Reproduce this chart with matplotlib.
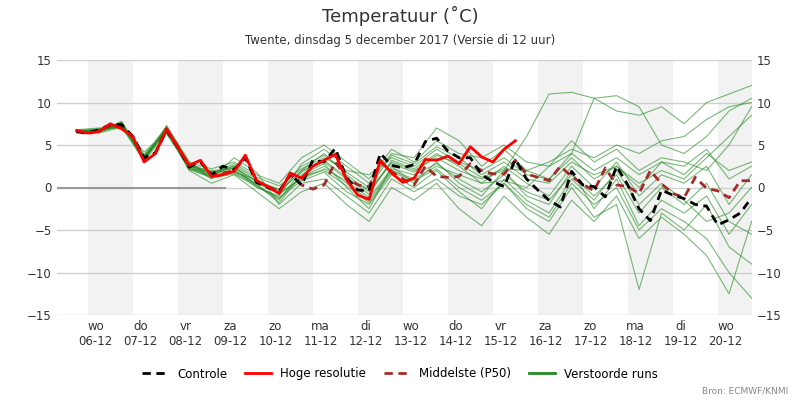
import numpy as np
import matplotlib.pyplot as plt
from matplotlib.lines import Line2D

# time in days since 5 dec 00h
hours6 = list(range(0, 361, 6))
hours12 = list(range(0, 361, 12))
start = 0.75

controle = [6.6, 6.4, 6.8, 7.4, 7.4, 6.0, 3.5, 4.1, 6.8, 4.8, 2.4, 3.0, 1.5, 2.5, 2.1, 3.5,
            0.6, 0.0, -0.5, 1.6, 0.3, 3.2, 3.0, 4.6, 1.1, -0.3, -0.4, 4.0, 2.6, 2.3,
            2.7, 5.4, 5.8, 4.3, 3.5, 3.5, 1.5, 0.7, 0.1, 3.3, 1.0, -0.3, -1.5, -2.3, 1.9,
            0.3, 0.1, -1.1, 2.5, 0.3, -2.5, -3.9, -0.3, -0.9, -1.3, -2.0, -2.2, -4.4,
            -3.8, -3.0, -1.2]
hoge_res = [6.7, 6.4, 6.6, 7.5, 6.9, 6.0, 3.0, 4.0, 6.9, 4.8, 2.6, 3.2, 1.3, 1.5, 1.9, 3.8,
            0.8, 0.1, -0.7, 1.7, 1.1, 2.5, 3.2, 3.9, 0.9, -0.9, -1.4, 3.2, 1.7, 0.6,
            1.1, 3.3, 3.2, 3.7, 2.8, 4.8, 3.6, 3.0, 4.5, 5.5]
mediaan = [6.6, 6.3, 6.7, 7.3, 7.2, 6.0, 3.3, 4.0, 6.7, 4.7, 2.6, 3.1, 1.5, 1.7, 2.0, 3.6,
           0.7, 0.1, -0.5, 1.5, 0.3, -0.2, 0.3, 3.0, 1.1, 0.3, 0.1, 3.0, 1.9, 1.0,
           0.3, 2.5, 1.3, 1.2, 1.3, 2.8, 2.0, 1.6, 1.6, 3.2, 1.6, 1.2, 0.8, 2.5, 1.3,
           0.4, -0.4, 2.3, 0.3, 0.1, -0.7, 2.0, 0.4, -0.7, -1.2, 1.2, -0.1, -0.4,
           -1.2, 0.8, 0.8]

# verstoorde runs (12-uurlijks)
runs = [
    [6.5, 6.9, 7.6, 3.2, 7.0, 2.8, 1.8, 2.5, 0.2, -1.5, 2.0, 4.0, 1.5, -0.5, 3.0, 2.0, 3.5, 2.0, 1.0, 2.0, 6.0, 11.0, 11.2, 10.5, 9.0, 8.5, 9.5, 7.5, 10.0, 11.0, 12.0],
    [6.7, 6.6, 7.2, 3.8, 6.5, 2.1, 1.2, 1.8, 0.9, -0.8, 1.2, 2.5, 0.5, -1.5, 2.0, 1.0, 2.5, 1.5, 0.5, 0.8, 0.0, 2.5, 4.0, 10.5, 10.8, 9.5, 5.0, 4.0, 6.0, 9.0, 10.5],
    [6.4, 6.5, 7.8, 3.0, 7.3, 3.1, 1.0, 3.5, 1.8, -2.0, 0.5, 1.0, -1.0, -3.0, 1.0, -0.5, 1.0, -1.0, -2.0, 0.5, -2.5, -4.0, 0.0, -3.5, -2.0, -12.0, -3.0, -5.0, -2.0, -7.0, -9.0],
    [6.8, 7.0, 7.0, 4.2, 6.3, 2.5, 2.0, 2.2, 0.0, -1.0, 2.8, 4.5, 2.5, 0.5, 4.0, 3.5, 7.0, 5.5, 2.5, 4.5, 2.0, 1.0, 3.5, 1.0, 2.5, 0.0, 3.0, 1.5, 4.0, 2.0, 3.0],
    [6.6, 6.7, 7.5, 3.5, 6.9, 2.0, 0.5, 1.5, -0.5, -2.5, -0.5, 0.5, -2.0, -4.0, 0.0, -1.5, 0.5, -2.5, -4.5, -1.0, -3.5, -5.5, -1.5, -4.0, -1.0, -6.0, -3.5, -5.5, -8.0, -12.5, -4.0],
    [6.5, 6.8, 7.3, 3.3, 6.6, 2.6, 1.6, 2.8, 1.2, 0.2, 2.2, 3.5, 2.0, 1.5, 3.5, 2.5, 4.5, 3.0, 2.0, 3.5, 1.5, 1.0, 4.0, 2.0, 3.5, 1.5, 3.0, 2.5, 4.5, 1.0, 2.5],
    [6.7, 6.5, 7.7, 3.9, 7.1, 2.2, 1.4, 1.9, 0.4, -1.8, 1.5, 2.8, 0.0, -2.5, 2.5, 0.5, 3.0, 0.5, -1.0, 2.0, -1.0, -2.0, 2.0, -2.5, 1.0, -4.5, -1.5, -3.0, -1.0, -5.5, -2.0],
    [6.6, 6.9, 7.4, 3.6, 6.8, 2.9, 2.2, 3.0, 1.5, 0.5, 3.5, 5.0, 3.0, 1.0, 4.5, 3.0, 5.5, 4.0, 3.5, 5.0, 3.0, 2.5, 5.5, 3.0, 4.5, 2.0, 3.5, 3.0, 2.0, 5.0, 9.5],
    [6.5, 6.4, 7.1, 3.1, 6.4, 2.3, 1.1, 1.6, 0.1, -1.2, 0.8, 1.8, -0.5, -2.0, 1.5, 0.0, 2.0, -0.5, -2.5, 1.0, -1.5, -3.0, 1.0, -1.5, 2.0, -2.0, 0.5, -1.5, -4.0, -3.0, 0.0],
    [6.8, 6.8, 7.6, 3.4, 7.2, 2.7, 1.7, 2.3, 0.7, -0.3, 1.8, 3.2, 1.2, -0.8, 3.2, 2.2, 4.0, 2.5, 0.5, 2.5, 0.5, -1.0, 2.5, 0.0, 3.0, -1.0, 1.5, 0.5, 2.5, -2.0, 1.5],
    [6.6, 6.6, 7.3, 3.7, 6.7, 2.4, 1.3, 2.0, 0.5, -0.7, 1.0, 2.2, 0.8, -1.2, 2.2, 1.5, 2.8, 1.0, -0.5, 1.5, -0.5, -1.5, 1.5, -1.0, 1.5, -3.0, 0.0, -2.0, 0.5, -4.0, -5.5],
    [6.7, 6.7, 7.5, 3.3, 6.9, 2.6, 1.5, 2.4, 0.8, -0.2, 2.5, 3.8, 1.8, 0.0, 3.8, 2.8, 4.8, 3.5, 1.5, 3.0, 1.0, 0.5, 3.0, 1.5, 2.5, 0.5, 2.0, 1.0, 3.5, 6.0, 8.5],
    [6.6, 6.5, 7.4, 3.6, 6.8, 2.2, 1.9, 1.7, 0.3, -1.3, 1.3, 2.0, 0.2, -1.8, 1.8, 0.8, 2.2, 0.0, -1.5, 0.5, -2.0, -3.5, 0.5, -2.0, 0.0, -5.0, -2.5, -4.0, -6.0, -10.0, -13.0],
    [6.5, 6.7, 7.2, 3.5, 6.6, 2.5, 1.4, 2.6, 1.0, -0.6, 2.0, 3.0, 1.0, -0.2, 2.8, 1.8, 3.8, 2.8, 1.2, 2.2, 2.0, 3.0, 4.5, 3.5, 5.0, 4.0, 5.5, 6.0, 8.0, 9.5, 10.0],
]

dagen = ['wo\n06-12', 'do\n07-12', 'vr\n08-12', 'za\n09-12', 'zo\n10-12', 'ma\n11-12',
         'di\n12-12', 'wo\n13-12', 'do\n14-12', 'vr\n15-12', 'za\n16-12', 'zo\n17-12',
         'ma\n18-12', 'di\n19-12', 'wo\n20-12']

t6 = start + np.array(hours6) / 24
t12 = start + np.array(hours12) / 24

fig = plt.figure(figsize=(8, 4), dpi=100)
ax = fig.add_axes([0.071, 0.2125, 0.869, 0.6375])

for d in range(1, 17, 2):
    ax.axvspan(d, d + 1, color='#f2f2f2', lw=0, zorder=0)
for y in range(-15, 16, 5):
    ax.axhline(y, color='#d0d0d0', lw=1, zorder=0.5)

ax.plot([0.31, 4.05], [0, 0], color='#999999', lw=1.5, zorder=1)

for r in runs:
    ax.plot(t12, r, color='#228b22', lw=0.8, alpha=0.6, zorder=2)
ax.plot(t6[:len(mediaan)], mediaan, color='#a52a2a', lw=2, ls='--', dashes=(3, 2), zorder=3)
ax.plot(t6[:len(controle)], controle, color='black', lw=2, ls='--', dashes=(3, 2), zorder=4)
ax.plot(t6[:len(hoge_res)], hoge_res, color='red', lw=2, zorder=5)

ax.set_xlim(0.31, 15.76)
ax.set_ylim(-15, 15)
ax.set_yticks(range(-15, 16, 5))
ax.set_xticks(np.arange(1.17, 16, 1))
ax.set_xticklabels(dagen)
ax.tick_params(axis='both', labelsize=8.5, colors='#333333', length=0)
ax.tick_params(labelright=True, right=False)
for s in ax.spines.values():
    s.set_visible(False)

fig.text(0.5, 0.945, 'Temperatuur (˚C)', ha='center', fontsize=13, color='#333333')
fig.text(0.5, 0.89, 'Twente, dinsdag 5 december 2017 (Versie di 12 uur)', ha='center', fontsize=8.5, color='#333333')

handles = [Line2D([], [], color='black', lw=2, ls='--', dashes=(3, 2)),
           Line2D([], [], color='red', lw=2),
           Line2D([], [], color='#a52a2a', lw=2, ls='--', dashes=(3, 2)),
           Line2D([], [], color='#228b22', lw=2)]
fig.legend(handles, ['Controle', 'Hoge resolutie', 'Middelste (P50)', 'Verstoorde runs'],
           loc='center', bbox_to_anchor=(0.5, 0.065), ncol=4, frameon=False, fontsize=8.5,
           handlelength=2.2, columnspacing=1.5)
fig.text(0.985, 0.015, 'Bron: ECMWF/KNMI', ha='right', fontsize=6.5, color='#888888')

fig.savefig('out.png', dpi=100)
